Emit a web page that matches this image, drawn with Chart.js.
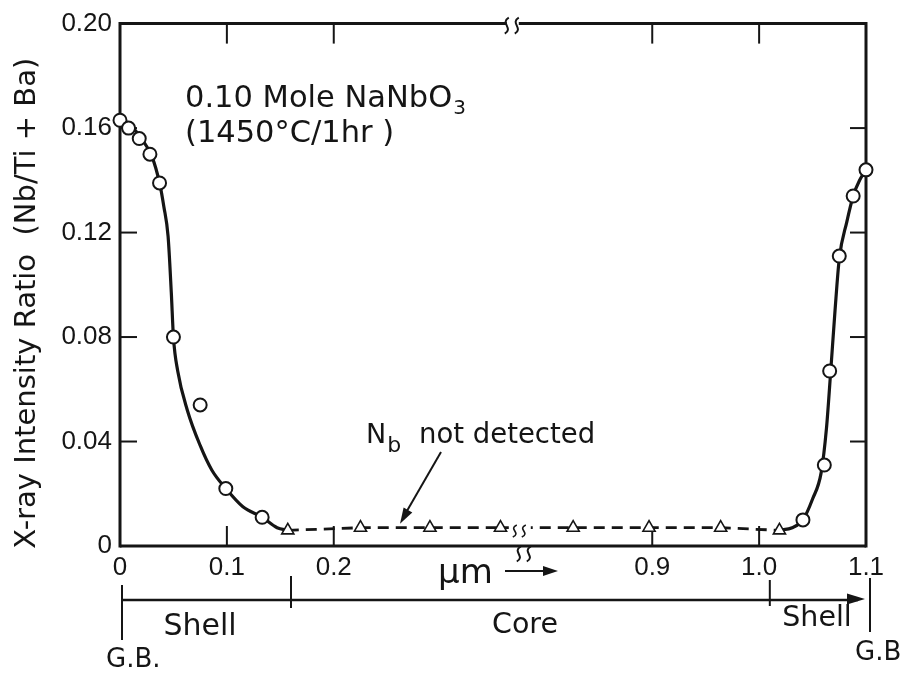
<!DOCTYPE html>
<html>
<head>
<meta charset="utf-8">
<script src="https://cdn.jsdelivr.net/npm/chart.js@4.4.1/dist/chart.umd.min.js"></script>
<style>
html,body{margin:0;padding:0;background:#ffffff;}
#wrap{width:905px;height:674px;position:relative;}
</style>
</head>
<body>
<div id="wrap"><canvas id="c" width="905" height="674"></canvas></div>
<script>
// ---------- data (distance in µm, ratio Nb/(Ti+Ba)) ----------
const xTickValues = [0, 0.1, 0.2, 0.9, 1.0, 1.1];
const xTickLabels = ['0', '0.1', '0.2', '0.9', '1.0', '1.1'];
const yTickValues = [0, 0.04, 0.08, 0.12, 0.16, 0.20];
const yTickLabels = ['0', '0.04', '0.08', '0.12', '0.16', '0.20'];

// measured points (open circles)
const circleX = [0.000, 0.008, 0.018, 0.028, 0.037, 0.050, 0.075, 0.099, 0.133,
                 1.041, 1.061, 1.066, 1.075, 1.088, 1.100];
const circleY = [0.163, 0.160, 0.156, 0.150, 0.139, 0.080, 0.054, 0.022, 0.011,
                 0.010, 0.031, 0.067, 0.111, 0.134, 0.144];

// Nb not detected (open triangles, dashed line)
const triX = [0.157, 0.225, 0.290, 0.356, 0.826, 0.897, 0.964, 1.019];
const triY = [0.006, 0.007, 0.007, 0.007, 0.007, 0.007, 0.007, 0.006];

// drawn smooth curve
const curveLX = [0.000, 0.010, 0.020, 0.030, 0.037, 0.041, 0.045, 0.048, 0.050, 0.054,
                 0.063, 0.075, 0.086, 0.099, 0.115, 0.133, 0.147, 0.157];
const curveLY = [0.164, 0.161, 0.156, 0.149, 0.139, 0.130, 0.1185, 0.097, 0.080, 0.067,
                 0.052, 0.0385, 0.029, 0.022, 0.015, 0.011, 0.007, 0.006];
const curveRX = [1.019, 1.031, 1.041, 1.050, 1.058, 1.063, 1.067, 1.071, 1.075,
                 1.082, 1.088, 1.094, 1.100];
const curveRY = [0.006, 0.007, 0.010, 0.018, 0.028, 0.045, 0.067, 0.090, 0.110,
                 0.124, 0.134, 0.140, 0.144];

// region bar boundaries (µm)
const regionEdges = [0, 0.16, 1.01, 1.1];
const regionNames = ['Shell', 'Core', 'Shell'];

// axis break
const BREAK_AT = 0.375;
const BREAK_RESUME = 0.777;
function u(x) { return x <= BREAK_AT ? x : x - (BREAK_RESUME - BREAK_AT); }

const FONT = 'DejaVu Sans';
const TICKFONT = 'Liberation Sans';
const INK = '#151515';

function pts(xs, ys) { return xs.map((x, i) => ({ x: u(x), y: ys[i] })); }

function line(ctx, x1, y1, x2, y2) {
  ctx.beginPath(); ctx.moveTo(x1, y1); ctx.lineTo(x2, y2); ctx.stroke();
}
function arrowHead(ctx, x1, y1, x2, y2, len, half) {
  const a = Math.atan2(y2 - y1, x2 - x1);
  ctx.beginPath();
  ctx.moveTo(x2, y2);
  ctx.lineTo(x2 - len * Math.cos(a) + half * Math.sin(a), y2 - len * Math.sin(a) - half * Math.cos(a));
  ctx.lineTo(x2 - len * Math.cos(a) - half * Math.sin(a), y2 - len * Math.sin(a) + half * Math.cos(a));
  ctx.closePath(); ctx.fill();
}
function squiggle(ctx, x, y, h) {
  ctx.beginPath();
  ctx.moveTo(x + 2, y - h / 2);
  ctx.bezierCurveTo(x - 7, y - h / 6, x + 7, y + h / 6, x - 2, y + h / 2);
  ctx.stroke();
}

const deco = {
  id: 'deco',
  beforeDatasetsDraw(chart) {
    const { ctx, chartArea: a, scales: { x, y } } = chart;
    const bx = x.getPixelForValue(u(BREAK_AT));
    ctx.save();
    ctx.strokeStyle = INK; ctx.lineCap = 'butt';
    ctx.lineWidth = 3;
    line(ctx, a.left, a.top - 1.5, a.left, a.bottom + 1.5);
    line(ctx, a.left, a.bottom, a.right, a.bottom);
    line(ctx, a.right, a.top - 1.5, a.right, a.bottom + 1.5);
    line(ctx, a.left, a.top, bx - 14, a.top);
    line(ctx, bx - 2, a.top, a.right, a.top);
    ctx.lineWidth = 2;
    xTickValues.forEach(v => {
      if (v === 0 || v === 1.1) return;
      const px = x.getPixelForValue(u(v));
      line(ctx, px, a.bottom, px, a.bottom - 20);
      line(ctx, px, a.top, px, a.top + 20);
    });
    yTickValues.forEach(v => {
      if (v === 0 || v === 0.2) return;
      const py = y.getPixelForValue(v);
      line(ctx, a.left, py, a.left + 17, py);
      line(ctx, a.right, py, a.right - 16, py);
    });
    // break marks on top and bottom axes
    ctx.lineWidth = 2;
    squiggle(ctx, bx - 14, a.top + 2, 16);
    squiggle(ctx, bx - 4, a.top + 2, 16);
    squiggle(ctx, bx - 2, a.bottom + 8, 15);
    squiggle(ctx, bx + 8, a.bottom + 8, 15);
    ctx.restore();
  },
  afterDatasetsDraw(chart) {
    const { ctx, scales: { x, y } } = chart;
    const bx = x.getPixelForValue(u(BREAK_AT));
    const by = y.getPixelForValue(0.0065);
    ctx.save();
    ctx.fillStyle = '#fff';
    ctx.fillRect(bx - 12, by - 4, 22, 8);
    ctx.strokeStyle = INK; ctx.lineWidth = 1.6;
    squiggle(ctx, bx - 6, by + 2, 12);
    squiggle(ctx, bx + 3, by + 2, 12);
    ctx.restore();
  },
  afterDraw(chart) {
    const { ctx, scales: { x, y } } = chart;
    ctx.save();
    ctx.fillStyle = INK; ctx.strokeStyle = INK;
    ctx.textBaseline = 'alphabetic'; ctx.textAlign = 'left';
    // sample label
    ctx.font = `30.5px "${FONT}"`;
    const t1 = '0.10 Mole NaNbO';
    ctx.fillText(t1, 185, 107);
    const w1 = ctx.measureText(t1).width;
    ctx.font = `20px "${FONT}"`;
    ctx.fillText('3', 185 + w1 + 1, 114);
    ctx.font = `30.5px "${FONT}"`;
    ctx.fillText('(1450\u00B0C/1hr )', 185, 142);

    // Nb not detected
    ctx.font = `27px "${FONT}"`;
    ctx.fillText('N', 366, 443);
    const wN = ctx.measureText('N').width;
    ctx.font = `22px "${FONT}"`;
    ctx.fillText('b', 366 + wN + 1, 452);
    ctx.font = `27.5px "${FONT}"`;
    ctx.fillText('not detected', 419, 443);
    ctx.lineWidth = 2;
    const ax1 = 441, ay1 = 452, ax2 = x.getPixelForValue(u(0.262)), ay2 = y.getPixelForValue(0.0085);
    line(ctx, ax1, ay1, ax2 + 3, ay2 - 6);
    arrowHead(ctx, ax1, ay1, ax2, ay2, 16, 5);

    // µm label with arrow
    ctx.font = `34px "${FONT}"`;
    ctx.fillText('\u03BCm', 438, 583);
    ctx.lineWidth = 2.2;
    line(ctx, 505, 571, 545, 571);
    arrowHead(ctx, 505, 571, 558, 571, 15, 5);

    // region bar
    const rp = regionEdges.map(v => x.getPixelForValue(u(v)));
    const barY = 600;
    ctx.lineWidth = 2.4;
    line(ctx, rp[0] + 2, barY, rp[3] - 8, barY);
    arrowHead(ctx, rp[0], barY, rp[3] - 1, barY - 1, 18, 5.5);
    ctx.lineWidth = 2;
    line(ctx, rp[0] + 2, 585, rp[0] + 2, 640);
    line(ctx, rp[1], 576, rp[1], 608);
    line(ctx, rp[2], 580, rp[2], 606);
    line(ctx, rp[3] + 4, 578, rp[3] + 4, 632);
    ctx.font = `30px "${FONT}"`;
    ctx.textAlign = 'center';
    ctx.fillText(regionNames[0], 200, 635);
    ctx.font = `28.5px "${FONT}"`;
    ctx.fillText(regionNames[1], 525, 633);
    ctx.fillText(regionNames[2], 817, 626);
    ctx.font = `26px "${FONT}"`;
    ctx.textAlign = 'left';
    ctx.fillText('G.B.', 106, 667);
    ctx.fillText('G.B', 855, 660);
    ctx.restore();
  }
};

new Chart(document.getElementById('c'), {
  type: 'scatter',
  data: {
    datasets: [
      {
        label: 'measured',
        data: pts(circleX, circleY),
        showLine: false,
        pointStyle: 'circle', pointRadius: 6.5,
        pointBackgroundColor: '#ffffff', pointBorderColor: INK, pointBorderWidth: 2,
        clip: false
      },
      {
        label: 'Nb not detected',
        data: pts(triX, triY),
        showLine: true, borderColor: INK, borderWidth: 2.8, borderDash: [11, 7],
        pointStyle: 'triangle', pointRadius: 7,
        pointBackgroundColor: '#ffffff', pointBorderColor: INK, pointBorderWidth: 1.6,
        clip: false
      },
      {
        label: 'curve left',
        data: pts(curveLX, curveLY),
        showLine: true, borderColor: INK, borderWidth: 3.2, pointRadius: 0,
        cubicInterpolationMode: 'monotone', clip: false
      },
      {
        label: 'curve right',
        data: pts(curveRX, curveRY),
        showLine: true, borderColor: INK, borderWidth: 3.2, pointRadius: 0,
        cubicInterpolationMode: 'monotone', clip: false
      }
    ]
  },
  options: {
    responsive: false,
    animation: false,
    devicePixelRatio: 1,
    layout: { padding: { left: 0, right: 39, top: 18, bottom: 88 } },
    plugins: { legend: { display: false }, tooltip: { enabled: false } },
    scales: {
      x: {
        type: 'linear', min: 0, max: u(1.1),
        afterBuildTicks: s => { s.ticks = xTickValues.map(v => ({ value: u(v) })); },
        afterFit: s => { s.height = 40; },
        ticks: {
          callback: (v, i) => xTickLabels[i],
          font: { family: TICKFONT, size: 26 }, color: INK, padding: 6,
          maxRotation: 0, autoSkip: false
        },
        grid: { display: false, drawTicks: false },
        border: { display: false }
      },
      y: {
        type: 'linear', min: 0, max: 0.2,
        afterBuildTicks: s => { s.ticks = yTickValues.map(v => ({ value: v })); },
        afterFit: s => { s.width = 120; },
        ticks: {
          callback: (v, i) => yTickLabels[i],
          font: { family: TICKFONT, size: 26 }, color: INK, padding: 8
        },
        grid: { display: false, drawTicks: false },
        border: { display: false },
        title: {
          display: true, text: 'X-ray Intensity Ratio  (Nb/Ti + Ba)    ',
          font: { family: FONT, size: 29 }, color: INK,
          padding: { top: 10, bottom: 0 }
        }
      }
    }
  },
  plugins: [deco]
});
</script>
</body>
</html>
